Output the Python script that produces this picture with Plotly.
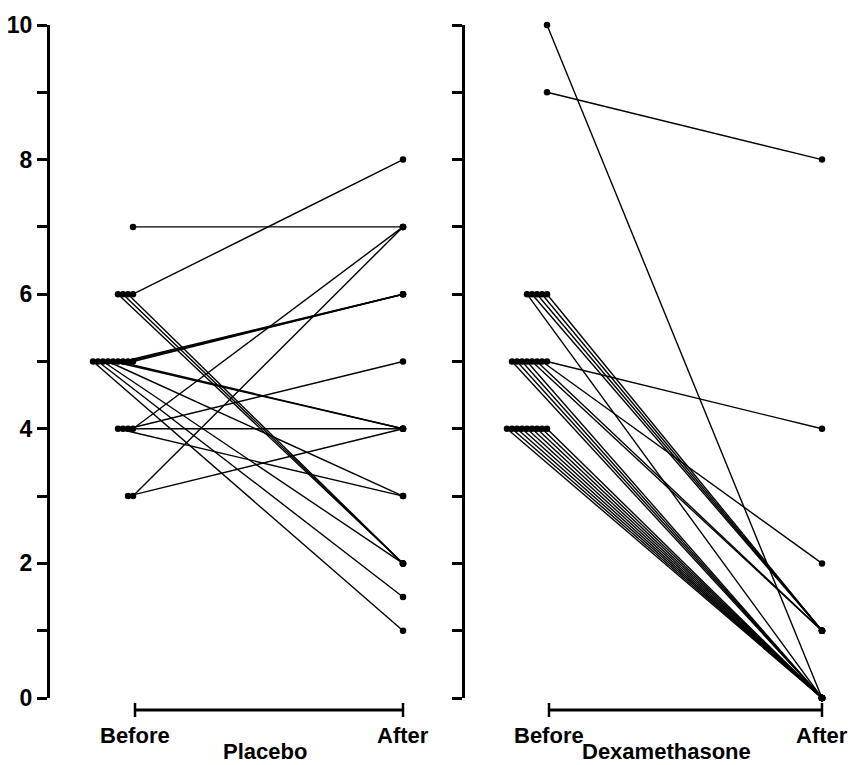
import plotly.graph_objects as go

# ---------------- data ----------------
time_labels = ["Before", "After"]
group_labels = ["Placebo", "Dexamethasone"]
y_tick_values = [0, 1, 2, 3, 4, 5, 6, 7, 8, 9, 10]
y_tick_labels = ["0", "", "2", "", "4", "", "6", "", "8", "", "10"]

placebo_before = [7, 6, 6, 6, 6, 5, 5, 5, 5, 5, 5, 5, 5, 5, 4, 4, 4, 4, 3, 3]
placebo_after = [7, 8, 2, 2, 2, 6, 6, 6, 4, 4, 3, 2, 1.5, 1, 7, 5, 4, 3, 7, 4]

dexa_before = [10, 9, 6, 6, 6, 6, 6, 5, 5, 5, 5, 5, 5, 5, 5, 4, 4, 4, 4, 4, 4, 4, 4, 4]
dexa_after = [0, 8, 1, 1, 1, 1, 0, 4, 2, 1, 1, 0, 0, 0, 0, 0, 0, 0, 0, 0, 0, 0, 0, 0]

# ---------------- geometry ----------------
W, H = 851, 765
FONT = dict(family="Liberation Sans, Arial, Helvetica, sans-serif", size=22, color="black", weight="bold")
TICKFONT = dict(FONT, size=23)


def py(px):  # pixel row -> paper fraction
    return (H - px) / H


def jitter(before, px_per_unit, step_px=5.0, start_px=-2.0):
    counts, xs = {}, []
    for v in before:
        k = counts.get(v, 0)
        counts[v] = k + 1
        xs.append((start_px - step_px * k) / px_per_unit)
    return xs


panels = [
    dict(before=placebo_before, after=placebo_after, xref="x", yref="y",
         axis_px=50, before_px=135, after_px=403, right_px=432, label_x=0.485),
    dict(before=dexa_before, after=dexa_after, xref="x2", yref="y2",
         axis_px=465, before_px=549, after_px=822, right_px=851, label_x=0.43),
]

fig = go.Figure()
shapes, annotations = [], []

for i, p in enumerate(panels):
    ppu = p["after_px"] - p["before_px"]
    xb = jitter(p["before"], ppu)
    lx, ly = [], []
    for x0, b, a in zip(xb, p["before"], p["after"]):
        lx += [x0, 1, None]
        ly += [b, a, None]
    fig.add_trace(go.Scatter(x=lx, y=ly, mode="lines", xaxis=p["xref"], yaxis=p["yref"],
                             line=dict(color="black", width=1.4), hoverinfo="skip", showlegend=False))
    fig.add_trace(go.Scatter(x=xb + [1] * len(p["after"]), y=p["before"] + p["after"], mode="markers",
                             xaxis=p["xref"], yaxis=p["yref"], cliponaxis=False,
                             marker=dict(color="black", size=6.5), hoverinfo="skip", showlegend=False))

    # bracket under panel
    yb = py(710)
    shapes.append(dict(type="line", xref=p["xref"], yref="paper", x0=0, x1=1, y0=yb, y1=yb,
                       line=dict(color="black", width=3)))
    for xe in (0, 1):
        shapes.append(dict(type="line", xref=p["xref"], yref="paper", x0=xe, x1=xe,
                           y0=py(703), y1=py(717), line=dict(color="black", width=2.5)))
    for xe, t in zip((0, 1), time_labels):
        annotations.append(dict(x=xe, y=py(735), xref=p["xref"], yref="paper", text=t,
                                showarrow=False, font=FONT, xanchor="center", yanchor="middle"))
    annotations.append(dict(x=p["label_x"], y=py(751), xref=p["xref"], yref="paper", text=group_labels[i],
                            showarrow=False, font=FONT, xanchor="center", yanchor="middle"))

ydom = [py(698), py(25)]

axis_common = dict(range=[0, 10], domain=ydom, showline=True, linecolor="black", linewidth=3,
                   ticks="outside", ticklen=10, tickwidth=2.5, tickcolor="black",
                   tickvals=y_tick_values, showgrid=False, zeroline=False, automargin=False,
                   fixedrange=True)


def xaxis_for(p):
    ppu = p["after_px"] - p["before_px"]
    return dict(domain=[p["axis_px"] / W, min(1.0, p["right_px"] / W)],
                range=[(p["axis_px"] - p["before_px"]) / ppu, (p["right_px"] - p["before_px"]) / ppu],
                visible=False, fixedrange=True)


p0, p1 = panels
fig.update_layout(
    width=W, height=H,
    margin=dict(l=0, r=0, t=0, b=0),
    paper_bgcolor="white", plot_bgcolor="white",
    showlegend=False,
    font=FONT,
    xaxis=xaxis_for(p0),
    xaxis2=xaxis_for(p1),
    yaxis=dict(anchor="x", ticktext=y_tick_labels, tickfont=TICKFONT, **axis_common),
    yaxis2=dict(anchor="x2", showticklabels=False, **axis_common),
    shapes=shapes,
    annotations=annotations,
)

fig.write_html(
    "out.html",
    config={"displayModeBar": False},
    post_script="document.body.style.margin='0px';document.body.style.overflow='hidden';",
)
